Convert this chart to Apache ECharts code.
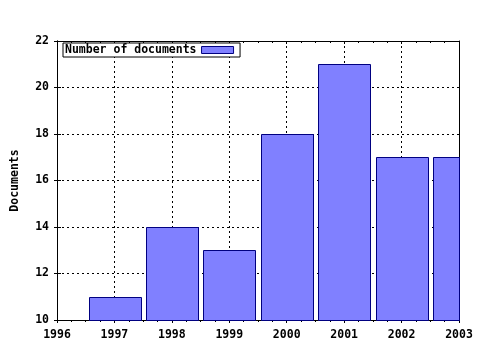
<!DOCTYPE html>
<html><head><meta charset="utf-8">
<script src="https://cdn.jsdelivr.net/npm/echarts@6/dist/echarts.min.js"></script>
<style>html,body{margin:0;padding:0;background:#fff}#c{width:480px;height:350px}</style>
</head><body><div id="c"></div>
<script>
const years = [1997, 1998, 1999, 2000, 2001, 2002, 2003];
const documents = [11, 14, 13, 18, 21, 17, 17];
const seriesName = 'Number of documents';
const yAxisTitle = 'Documents';

const FONT = '"DejaVu Sans Mono", "Liberation Mono", monospace';
const chart = echarts.init(document.getElementById('c'), null, {renderer: 'canvas'});
const data = years.map((y, i) => [y, documents[i]]);
const barFrac = 0.9;

const labelStyle = {fontFamily: FONT, fontWeight: 'bold', fontSize: 11.5, color: '#000'};

chart.setOption({
  animation: false,
  backgroundColor: '#fff',
  grid: {left: 57, right: 21, top: 41, bottom: 30, containLabel: false, outerBoundsMode: 'none'},
  legend: {
    show: true, left: 63, top: 43, align: 'right',
    padding: [1, 6, 1, 2], borderColor: '#000', borderWidth: 1, backgroundColor: '#fff',
    itemWidth: 32, itemHeight: 7,
    textStyle: Object.assign({}, labelStyle, {lineHeight: 12}),
    data: [{name: seriesName, icon: 'rect', itemStyle: {color: '#8080ff', borderColor: '#000080', borderWidth: 1}}]
  },
  xAxis: [{
    type: 'value', min: 1996, max: 2003, interval: 1, position: 'bottom',
    axisLine: {show: true, onZero: false, lineStyle: {color: '#000', width: 1}},
    axisTick: {show: true, inside: false, length: 3, lineStyle: {color: '#000'}},
    minorTick: {show: true, splitNumber: 4, length: 2, lineStyle: {color: '#000'}},
    axisLabel: Object.assign({}, labelStyle, {margin: 9, formatter: v => String(v)}),
    splitLine: {show: true, lineStyle: {color: '#000', type: [2, 3], width: 1}}
  }, {
    type: 'value', min: 1996, max: 2003, interval: 1, position: 'top',
    axisLine: {show: true, onZero: false, lineStyle: {color: '#000', width: 1}},
    axisTick: {show: true, inside: true, length: 3, lineStyle: {color: '#000'}},
    minorTick: {show: true, splitNumber: 4, length: 2, lineStyle: {color: '#000'}},
    axisLabel: {show: false}, splitLine: {show: false}
  }],
  yAxis: [{
    type: 'value', min: 10, max: 22, interval: 2, position: 'left', offset: 0,
    name: yAxisTitle, nameLocation: 'middle', nameGap: 36, nameRotate: 90,
    nameTextStyle: labelStyle,
    axisLine: {show: true, onZero: false, lineStyle: {color: '#000', width: 1}},
    axisTick: {show: true, inside: false, length: 3, lineStyle: {color: '#000'}},
    axisLabel: Object.assign({}, labelStyle, {margin: 8}),
    splitLine: {show: true, lineStyle: {color: '#000', type: [2, 3], width: 1}}
  }, {
    type: 'value', min: 10, max: 22, interval: 2, position: 'right', offset: 0,
    axisLine: {show: true, onZero: false, lineStyle: {color: '#000', width: 1}},
    axisTick: {show: false}, axisLabel: {show: false}, splitLine: {show: false}
  }, {
    type: 'value', min: 10, max: 22, interval: 2, position: 'left', offset: 0,
    axisLine: {show: true, onZero: false, lineStyle: {color: '#000', width: 1}},
    axisTick: {show: true, inside: true, length: 4, lineStyle: {color: '#000'}},
    axisLabel: {show: false}, splitLine: {show: false}
  }],
  series: [{
    name: seriesName, type: 'custom', xAxisIndex: 0, yAxisIndex: 0,
    data: data, z: 3,
    renderItem: function (params, api) {
      const x = api.value(0), v = api.value(1);
      const p1 = api.coord([x - barFrac / 2, v]);
      const p2 = api.coord([x + barFrac / 2, 10]);
      const rect = {x: Math.round(p1[0]) + 0.5, y: Math.round(p1[1]) + 0.5,
                    width: Math.round(p2[0] - p1[0]), height: Math.round(p2[1] - p1[1])};
      const cs = params.coordSys;
      const clipped = echarts.graphic.clipRectByRect(rect, {x: cs.x, y: cs.y, width: cs.width + 0.5, height: cs.height + 1});
      if (!clipped) return;
      return {type: 'rect', shape: clipped,
              style: {fill: '#8080ff', stroke: '#000080', lineWidth: 1}};
    }
  }]
});
</script></body></html>
